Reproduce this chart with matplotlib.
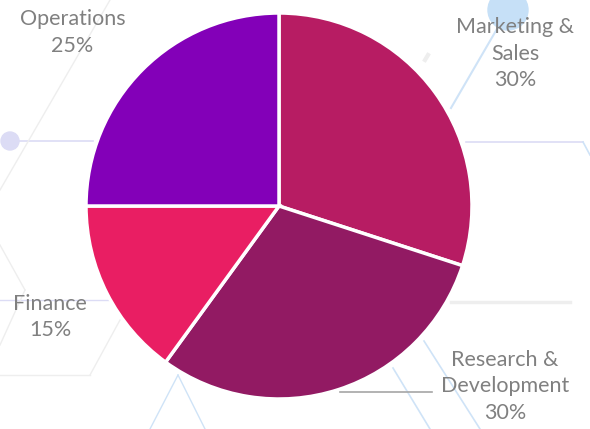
import matplotlib
matplotlib.use("Agg")
import matplotlib.pyplot as plt
from matplotlib.lines import Line2D
from matplotlib.patches import Circle

categories = ["Marketing &\nSales", "Research &\nDevelopment", "Finance", "Operations"]
values = [30, 30, 15, 25]
colors = ["#B71C63", "#921A63", "#E91E63", "#8300B8"]
label_pos = [(1.225, 0.79), (1.17, -0.935), (-1.185, -0.575), (-1.07, 0.90)]

W, H = 590, 429
fig = plt.figure(figsize=(W / 100, H / 100), dpi=100)
fig.patch.set_facecolor("white")

# faint decorative background network
bg = fig.add_axes([0, 0, 1, 1])
bg.set_xlim(0, W)
bg.set_ylim(H, 0)
bg.axis("off")
blue = "#CFE3F7"
lav = "#DCDCF5"
grey = "#EEEEEE"
segs = [
    ((10, 141), (93, 141), lav, 1.2),
    ((508, 10), (451, 108), blue, 1.5),
    ((466, 142), (583, 142), lav, 1.2),
    ((583, 142), (590, 155), blue, 1.2),
    ((110, 0), (0, 190), grey, 1.0),
    ((0, 300), (110, 300), lav, 1.0),
    ((0, 245), (25, 290), grey, 1.0),
    ((25, 290), (0, 345), grey, 1.0),
    ((0, 375), (90, 375), grey, 1.0),
    ((120, 320), (90, 375), grey, 1.0),
    ((150, 429), (178, 375), blue, 1.0),
    ((178, 375), (205, 429), blue, 1.0),
    ((424, 341), (480, 429), blue, 1.2),
    ((393, 368), (430, 429), blue, 1.2),
    ((451, 302), (570, 302), grey, 2.5),
    ((425, 60), (428, 55), grey, 3.0),
]
for (x0, y0), (x1, y1), c, lw in segs:
    bg.add_line(Line2D([x0, x1], [y0, y1], color=c, lw=lw, zorder=0))
bg.add_patch(Circle((10, 141), 9, color=lav, zorder=0))
bg.add_patch(Circle((508, 10), 20, color="#C6E0F7", zorder=0))

cx, cy, r = 279, 206, 193
ax = fig.add_axes([(cx - r) / W, (H - cy - r) / H, 2 * r / W, 2 * r / H])
ax.set_facecolor("none")
wedges, _ = ax.pie(values, colors=colors, startangle=90, counterclock=False,
                   radius=1.0,
                   wedgeprops=dict(edgecolor="white", linewidth=2.5))
ax.set_xlim(-1, 1)
ax.set_ylim(-1, 1)
ax.set_aspect("equal")
ax.axis("off")

for cat, v, (lx, ly) in zip(categories, values, label_pos):
    ax.text(lx, ly, f"{cat}\n{v}%", ha="center", va="center", fontsize=15.5,
            family="Lato", color="#808080", linespacing=1.42, clip_on=False)

ax.plot([0.316, 0.793], [-0.964, -0.964], color="#A6A6A6", lw=1.2, clip_on=False)

fig.savefig("out.png", dpi=100)
